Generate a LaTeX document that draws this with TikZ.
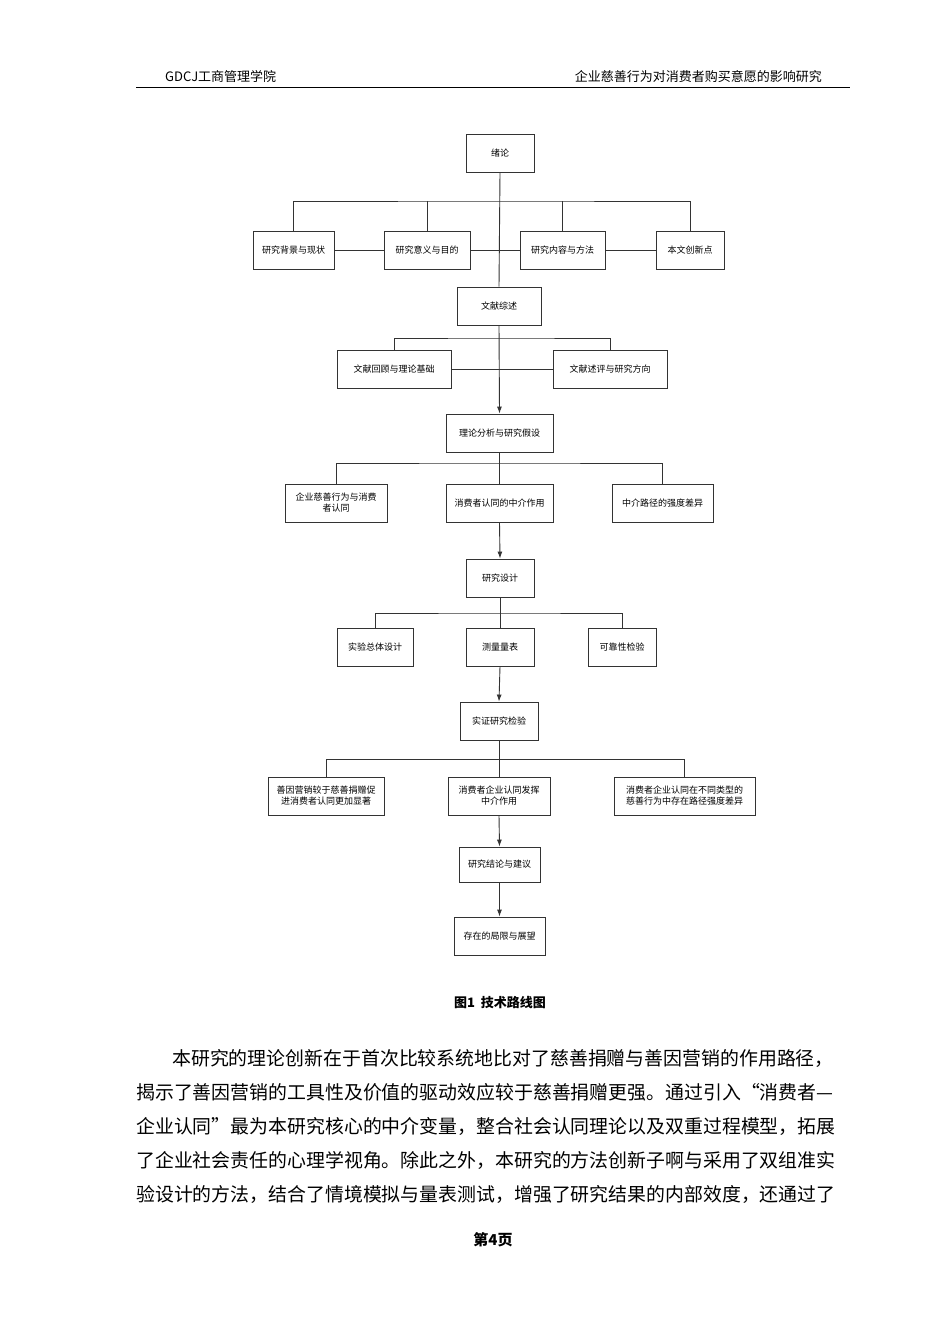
\documentclass[tikz,border=0pt]{standalone}
\usepackage{fontspec}
\setmainfont{Liberation Sans}
\newfontfamily\cjk{Noto Sans CJK SC}
\usetikzlibrary{arrows.meta}
\tikzset{
  box/.style={draw=black!80, line width=0.9pt, minimum height=38pt, inner sep=1pt, font=\cjk\fontsize{9}{11}\selectfont, align=center},
  link/.style={draw=black!80, line width=0.9pt},
  arr/.style={link, -{Latex[length=7pt,width=5pt]}},
  body/.style={anchor=west, inner sep=0pt, font=\cjk\fontsize{18.9}{20}\selectfont}
}
\begin{document}
\begin{tikzpicture}[x=1pt,y=-1pt]
\useasboundingbox[fill=white] (0,0) rectangle (950,1344);
% header
\node[anchor=west, inner sep=0pt, font=\cjk\fontsize{13}{15}\selectfont] (hl) at (165,77) {GDCJ工商管理学院};
\node[anchor=east, inner sep=0pt, font=\cjk\fontsize{13}{15}\selectfont] (hr) at (822,77) {企业慈善行为对消费者购买意愿的影响研究};
\draw[line width=0.8pt] (136,87) -- (850,87);

% boxes
\node[box, minimum width=68pt] (xl) at (500,153) {绪论};
\node[box, minimum width=81pt] (bj) at (293.5,250) {研究背景与现状};
\node[box, minimum width=86pt] (yy) at (427,250) {研究意义与目的};
\node[box, minimum width=85pt] (nr) at (562.5,250) {研究内容与方法};
\node[box, minimum width=68pt] (cx) at (690,250) {本文创新点};
\node[box, minimum width=84pt] (ws) at (499,306) {文献综述};
\node[box, minimum width=114pt] (hg) at (394,369) {文献回顾与理论基础};
\node[box, minimum width=114pt] (sp) at (610,369) {文献述评与研究方向};
\node[box, minimum width=107pt] (ll) at (499.5,433) {理论分析与研究假设};
\node[box, minimum width=102pt] (qy) at (336,503) {企业慈善行为与消费\\者认同};
\node[box, minimum width=107pt] (zj) at (499.5,503) {消费者认同的中介作用};
\node[box, minimum width=101pt] (qd) at (662.5,503) {中介路径的强度差异};
\node[box, minimum width=68pt] (sj) at (500,578) {研究设计};
\node[box, minimum width=76pt] (zt) at (375,647) {实验总体设计};
\node[box, minimum width=68pt] (lb) at (500,647) {测量量表};
\node[box, minimum width=68pt] (kk) at (622,647) {可靠性检验};
\node[box, minimum width=78pt] (sz) at (499,721) {实证研究检验};
\node[box, minimum width=116pt] (sy) at (326,796) {善因营销较于慈善捐赠促\\进消费者认同更加显著};
\node[box, minimum width=102pt] (fh) at (499,796) {消费者企业认同发挥\\中介作用};
\node[box, minimum width=141pt] (lx) at (684.5,796) {消费者企业认同在不同类型的\\慈善行为中存在路径强度差异};
\node[box, minimum width=81pt, minimum height=35pt] (jl) at (499.5,864.5) {研究结论与建议};
\node[box, minimum width=91pt] (zw) at (499.5,936) {存在的局限与展望};

% connectors
\draw[link] (xl.south) -- (ws.north);
\draw[link] (bj.north) |- (500,201) -| (cx.north);
\draw[link] (yy.north) -- (yy.north |- 0,201);
\draw[link] (nr.north) -- (nr.north |- 0,201);
\draw[link] (bj) -- (yy) (yy) -- (nr) (nr) -- (cx);
\draw[link] (hg.north) |- (500,338) -| (sp.north);
\draw[link] (hg) -- (sp);
\draw[arr] (ws.south) -- (ll.north);
\draw[link] (qy.north) |- (500,463) -| (qd.north);
\draw[link] (ll.south) -- (zj.north);
\draw[arr] (zj.south) -- (sj.north);
\draw[link] (zt.north) |- (500,613) -| (kk.north);
\draw[link] (sj.south) -- (lb.north);
\draw[arr] (lb.south) -- (sz.north);
\draw[link] (sy.north) |- (500,759) -| (lx.north);
\draw[link] (sz.south) -- (fh.north);
\draw[arr] (fh.south) -- (jl.north);
\draw[arr] (jl.south) -- (zw.north);

% caption
\node[inner sep=0pt, font=\cjk\bfseries\fontsize{13}{15}\selectfont] (cap) at (500,1003) {图1\hspace{6pt}技术路线图};

% body text
\node[body] (t1) at (172,1058) {本研究的理论创新在于首次比较系统地比对了慈善捐赠与善因营销的作用路径，};
\node[body] (t2) at (136,1092) {揭示了善因营销的工具性及价值的驱动效应较于慈善捐赠更强。通过引入“消费者—};
\node[body] (t3) at (136,1126) {企业认同”最为本研究核心的中介变量，整合社会认同理论以及双重过程模型，拓展};
\node[body] (t4) at (136,1160) {了企业社会责任的心理学视角。除此之外，本研究的方法创新子啊与采用了双组准实};
\node[body] (t5) at (136,1194) {验设计的方法，结合了情境模拟与量表测试，增强了研究结果的内部效度，还通过了};

% footer
\node[inner sep=0pt, font=\cjk\bfseries\fontsize{15}{17}\selectfont] (pg) at (493,1240) {第4页};
\end{tikzpicture}
\end{document}
